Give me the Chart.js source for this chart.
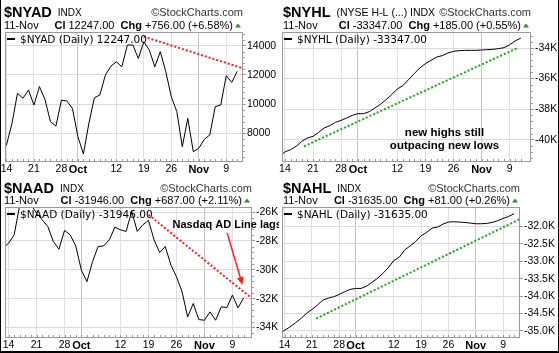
<!DOCTYPE html>
<html>
<head>
<meta charset="utf-8">
<title>NYSE and Nasdaq breadth</title>
<script src="https://cdn.jsdelivr.net/npm/chart.js@4.4.0/dist/chart.umd.min.js"></script>
<style>
  html, body { margin: 0; padding: 0; background: #fff; }
  #page { position: relative; width: 559px; height: 353px; overflow: hidden; background: #fff; }
  #page canvas { position: absolute; }
  .edge { position: absolute; background: #000; }
</style>
</head>
<body>
<div id="page">
  <canvas id="nyadChart" width="279" height="176" style="left:0;top:0"></canvas>
  <canvas id="nyhlChart" width="280" height="176" style="left:279px;top:0"></canvas>
  <canvas id="naadChart" width="279" height="177" style="left:0;top:176px"></canvas>
  <canvas id="nahlChart" width="280" height="177" style="left:279px;top:176px"></canvas>
  <div class="edge" style="left:0;top:0;width:1px;height:353px"></div>
  <div class="edge" style="left:558px;top:0;width:1px;height:353px"></div>
  <div class="edge" style="left:0;top:351px;width:559px;height:2px"></div>
</div>
<script>
// trading days, Sep 11 .. Nov 11 (x value = position - 1, so Sep 14 is 0)
const dates = ["09-11", "09-14", "09-15", "09-16", "09-17", "09-18", "09-21", "09-22", "09-23", "09-24", "09-25",
  "09-28", "09-29", "09-30", "10-01", "10-02", "10-05", "10-06", "10-07", "10-08", "10-09",
  "10-12", "10-13", "10-14", "10-15", "10-16", "10-19", "10-20", "10-21", "10-22", "10-23",
  "10-26", "10-27", "10-28", "10-29", "10-30", "11-02", "11-03", "11-04", "11-05", "11-06",
  "11-09", "11-10", "11-11"];
const xTickDates = ["09-14", "09-21", "09-28", "10-01", "10-12", "10-19", "10-26", "11-02", "11-09"];
const xTickLabels = ["14", "21", "28", "Oct", "12", "19", "26", "Nov", "9"];

const nyad = [7000, 7200, 8690, 10740, 10400, 10970, 9940, 11200, 10330, 8800, 8500, 10280, 10215, 9710, 7775,
  6590, 8690, 10440, 10630, 11990, 12600, 12900, 12560, 14050, 14050, 13130, 14270, 13700, 12560, 13590,
  12220, 10510, 9490, 7090, 9030, 6750, 6980, 7590, 7890, 9830, 9940, 11950, 11491, 12247];
const nyhl = [-41085, -40800, -40649, -40431, -40104, -39886, -39777, -39515, -39232, -39079, -38861, -38731,
  -38578, -38404, -38295, -38295, -38164, -37924, -37684, -37379, -37052, -36681, -36463, -36071, -35679,
  -35308, -35025, -34807, -34589, -34501, -34327, -34218, -34174, -34153, -34153, -34153, -34131, -34109,
  -34087, -34044, -33978, -33790, -33532, -33347];
const naad = [-28500, -28157, -27577, -25500, -25300, -25500, -26070, -26533, -26997, -28041, -28574, -27275,
  -27577, -28342, -30012, -30824, -29432, -28389, -28342, -27925, -27044, -27229, -27345, -25954, -27345,
  -26881, -26580, -27925, -28806, -28389, -29664, -30476, -31519, -33258, -32331, -33444, -33490, -32911,
  -33490, -32563, -32609, -31751, -32633, -31946];
const nahl = [-35077, -34981, -34885, -34769, -34644, -34500, -34385, -34260, -34115, -34058, -34019, -33952,
  -33875, -33808, -33779, -33779, -33712, -33606, -33490, -33346, -33183, -32981, -32885, -32673, -32558,
  -32433, -32269, -32173, -32048, -32019, -31933, -31875, -31865, -31875, -31885, -31904, -31923, -31923,
  -31913, -31885, -31837, -31769, -31716, -31635];

const nyadTicks = [8000, 10000, 12000, 14000];
const nyhlTicks = [-40000, -38000, -36000, -34000];
const naadTicks = [-34000, -32000, -30000, -28000, -26000];
const nahlTicks = [-35000, -34500, -34000, -33500, -33000, -32500, -32000];

// drawn-in trend lines: [day, value]
const nyadTrend = [[25, 14620], [44, 12336]];
const nyhlTrend = [[3.4, -40430], [41.4, -34000]];
const naadTrend = [[25, -26190], [44, -32150]];
const nahlTrend = [[5.8, -34644], [44, -31719]];

const SANS = '"Liberation Sans", Arial, sans-serif';
const NARROW = '"Liberation Sans Narrow", "Arial Narrow", sans-serif';
const DEJAVU = '"DejaVu Sans", Verdana, sans-serif';

function runWidth(ctx, parts) {
  let w = 0;
  parts.forEach(p => { ctx.font = p[1]; w += ctx.measureText(p[0]).width; });
  return w;
}
function drawRun(ctx, x, y, parts) {
  parts.forEach(p => {
    ctx.font = p[1];
    ctx.fillStyle = p[2] || "#000";
    ctx.fillText(p[0], x, y);
    x += ctx.measureText(p[0]).width;
  });
  return x;
}

function makeChart(cfg) {
  const canvas = document.getElementById(cfg.id);
  const W = canvas.width, H = canvas.height, P = cfg.plot;
  const tickIdx = xTickDates.map(d => dates.indexOf(d) - 1);

  const decor = {
    id: "decor",
    afterDatasetsDraw(chart) {
      const ctx = chart.ctx, a = chart.chartArea;
      const xs = chart.scales.x, ys = chart.scales.y;
      ctx.save();
      // daily ticks along the bottom
      ctx.fillStyle = "#999";
      dates.forEach((d, i) => {
        const px = Math.round(xs.getPixelForValue(i - 1));
        if (px > a.left && px < a.right) ctx.fillRect(px, a.bottom - 3, 1, 2);
      });
      // minor ticks on the value axis
      if (cfg.minor) {
        for (let v = Math.ceil(cfg.yMin / cfg.minor) * cfg.minor; v <= cfg.yMax; v += cfg.minor) {
          if (cfg.yTicks.includes(v)) continue;
          ctx.fillRect(a.right, Math.round(ys.getPixelForValue(v)), 2, 1);
        }
      }
      // plot frame
      ctx.strokeStyle = "#9a9a9a";
      ctx.lineWidth = 1;
      ctx.strokeRect(a.left + 0.5, a.top + 0.5, a.width - 1, a.height - 1);

      // notes and arrows
      ctx.fillStyle = "#000";
      ctx.textBaseline = "middle";
      (cfg.notes || []).forEach(n => {
        ctx.font = "bold " + n.size + "px " + SANS;
        ctx.textAlign = n.align;
        ctx.fillText(n.text, xs.getPixelForValue(n.x), ys.getPixelForValue(n.y));
      });
      (cfg.arrows || []).forEach(ar => {
        const x1 = xs.getPixelForValue(ar[0]), y1 = ys.getPixelForValue(ar[1]);
        const x2 = xs.getPixelForValue(ar[2]), y2 = ys.getPixelForValue(ar[3]);
        const ang = Math.atan2(y2 - y1, x2 - x1);
        ctx.strokeStyle = "#ff2020";
        ctx.fillStyle = "#ff2020";
        ctx.lineWidth = 1.5;
        ctx.beginPath();
        ctx.moveTo(x1, y1);
        ctx.lineTo(x2 - 6 * Math.cos(ang), y2 - 6 * Math.sin(ang));
        ctx.stroke();
        ctx.beginPath();
        ctx.moveTo(x2, y2);
        ctx.lineTo(x2 - 8 * Math.cos(ang) + 3.5 * Math.sin(ang), y2 - 8 * Math.sin(ang) - 3.5 * Math.cos(ang));
        ctx.lineTo(x2 - 8 * Math.cos(ang) - 3.5 * Math.sin(ang), y2 - 8 * Math.sin(ang) + 3.5 * Math.cos(ang));
        ctx.closePath();
        ctx.fill();
      });
      ctx.restore();
    },
    afterDraw(chart) {
      const ctx = chart.ctx, a = chart.chartArea;
      ctx.save();
      ctx.textAlign = "left";
      ctx.textBaseline = "alphabetic";
      // header line 1
      const x = drawRun(ctx, 4, 17, [[cfg.sym, "bold 14.5px " + NARROW]]);
      drawRun(ctx, x + 6, 16, [[cfg.name, cfg.nameSize + "px " + SANS]]);
      ctx.font = "11px " + SANS;
      ctx.fillStyle = "#333";
      const wm = "\u00a9StockCharts.com";
      ctx.fillText(wm, a.right - ctx.measureText(wm).width, 16);
      // header line 2
      drawRun(ctx, 4, a.top - 3.5, [["11-Nov", "11px " + SANS]]);
      const parts = [["Cl ", "bold 11px " + SANS], [cfg.close + "  ", "11px " + SANS],
        ["Chg ", "bold 11px " + SANS], [cfg.chg, "11px " + SANS]];
      drawRun(ctx, a.right - 10 - runWidth(ctx, parts), a.top - 3.5, parts);
      ctx.fillStyle = "#2e8b2e";
      ctx.beginPath();
      ctx.moveTo(a.right - 8, a.top - 4.5);
      ctx.lineTo(a.right - 2, a.top - 4.5);
      ctx.lineTo(a.right - 5, a.top - 8.5);
      ctx.closePath();
      ctx.fill();
      // in-plot legend
      ctx.fillStyle = "#000";
      ctx.fillRect(a.left + 2, a.top + 6, 8, 2);
      ctx.font = "10.5px " + DEJAVU;
      ctx.fillText(cfg.sym + " (Daily) " + cfg.close, a.left + 15, a.top + 11);
      ctx.restore();
    }
  };

  return new Chart(canvas.getContext("2d"), {
    type: "line",
    data: {
      datasets: [
        {
          data: cfg.values.map((v, i) => ({ x: i - 1, y: v })),
          borderColor: "#000",
          borderWidth: 1,
          pointRadius: 0,
          tension: 0
        },
        {
          data: cfg.trend.map(p => ({ x: p[0], y: p[1] })),
          borderColor: cfg.trendColor,
          borderWidth: 2,
          borderDash: [2, 2],
          pointRadius: 0,
          tension: 0
        }
      ]
    },
    options: {
      responsive: false,
      animation: false,
      devicePixelRatio: 1,
      layout: { padding: { left: P.l, top: P.t, right: 0, bottom: 0 } },
      scales: {
        x: {
          type: "linear",
          min: cfg.xMin,
          max: cfg.xMax,
          afterBuildTicks: s => { s.ticks = tickIdx.map(v => ({ value: v })); },
          afterFit: s => {
            s.height = H - P.b;
            s.paddingLeft = s.paddingRight = s.paddingTop = s.paddingBottom = 0;
          },
          ticks: {
            autoSkip: false,
            maxRotation: 0,
            padding: 1,
            color: "#000",
            callback: (v, i) => xTickLabels[i],
            font: c => {
              const lab = xTickLabels[c.index];
              return lab === "Oct" || lab === "Nov"
                ? { family: SANS, size: 11, weight: "bold" }
                : { family: SANS, size: 10.5 };
            }
          },
          grid: {
            drawTicks: false,
            color: c => {
              const lab = xTickLabels[c.index];
              return lab === "Oct" || lab === "Nov" ? "#c4c4c4" : "#e0e0e0";
            }
          },
          border: { display: false }
        },
        y: {
          position: "right",
          min: cfg.yMin,
          max: cfg.yMax,
          afterBuildTicks: s => { s.ticks = cfg.yTicks.map(v => ({ value: v })); },
          afterFit: s => {
            s.width = W - P.r;
            s.paddingLeft = s.paddingRight = s.paddingTop = s.paddingBottom = 0;
          },
          ticks: {
            padding: 1,
            color: "#000",
            font: { family: SANS, size: 10.5 },
            callback: cfg.yLabel
          },
          grid: { color: "#dadada", tickColor: "#999", tickLength: 3 },
          border: { display: false }
        }
      },
      plugins: {
        legend: { display: false },
        tooltip: { enabled: false }
      }
    },
    plugins: [decor]
  });
}

const kLabel = v => (v / 1000) + "K";

makeChart({
  id: "nyadChart", sym: "$NYAD", name: "INDX", nameSize: 10, close: "12247.00", chg: "+756.00 (+6.58%)",
  values: nyad, trend: nyadTrend, trendColor: "#ff2020",
  plot: { l: 5, t: 32, r: 243, b: 162 },
  xMin: -0.27, xMax: 43.05, yMin: 6040, yMax: 14940, yTicks: nyadTicks, minor: 400,
  yLabel: v => String(v)
});

makeChart({
  id: "nyhlChart", sym: "$NYHL", name: "(NYSE H-L (...) INDX", nameSize: 10.5, close: "-33347.00", chg: "+185.00 (+0.55%)",
  values: nyhl, trend: nyhlTrend, trendColor: "#22a322",
  plot: { l: 3, t: 32, r: 252, b: 162 },
  xMin: -0.52, xMax: 43.8, yMin: -41456, yMax: -32953, yTicks: nyhlTicks, minor: 400,
  yLabel: kLabel,
  notes: [
    { text: "new highs still", x: 28.4, y: -39560, align: "center", size: 11.5 },
    { text: "outpacing new lows", x: 28.4, y: -40430, align: "center", size: 11.5 }
  ]
});

makeChart({
  id: "naadChart", sym: "$NAAD", name: "INDX", nameSize: 10, close: "-31946.00", chg: "+687.00 (+2.11%)",
  values: naad, trend: naadTrend, trendColor: "#ff2020",
  plot: { l: 5, t: 31, r: 252, b: 162 },
  xMin: -0.64, xMax: 43.5, yMin: -34720, yMax: -25652, yTicks: naadTicks, minor: 400,
  yLabel: kLabel,
  notes: [{ text: "Nasdaq AD Line lags", x: 29.3, y: -26880, align: "left", size: 11 }],
  arrows: [[39.06, -27460, 41.8, -31055]]
});

makeChart({
  id: "nahlChart", sym: "$NAHL", name: "INDX", nameSize: 10, close: "-31635.00", chg: "+81.00 (+0.26%)",
  values: nahl, trend: nahlTrend, trendColor: "#22a322",
  plot: { l: 3, t: 31, r: 241, b: 162 },
  xMin: -0.46, xMax: 43.1, yMin: -35202, yMax: -31442, yTicks: nahlTicks, minor: 0,
  yLabel: v => (v / 1000).toFixed(1) + "K"
});
</script>
</body>
</html>
